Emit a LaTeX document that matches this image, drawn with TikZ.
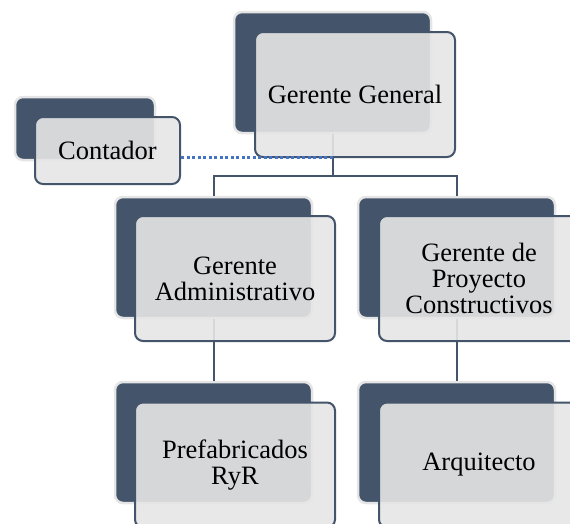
\documentclass[tikz,border=0pt]{standalone}
\usepackage{fontspec}
\setmainfont{Liberation Serif}
\usetikzlibrary{positioning}
\definecolor{slate}{HTML}{44546A}
\definecolor{paper}{HTML}{E6E6E6}
\definecolor{dotblue}{HTML}{4472C4}
\tikzset{
  back/.style={draw=black!10,line width=2.5pt,fill=slate,rounded corners=8pt,
    minimum width=197pt,minimum height=121pt,inner sep=0pt},
  front/.style={draw=slate,line width=2pt,fill=paper,fill opacity=0.9,text opacity=1,
    rounded corners=8pt,minimum width=200pt,minimum height=125pt,inner sep=0pt,
    align=center,font=\rmfamily\fontsize{26.5}{26}\selectfont},
  link/.style={draw=slate,line width=2pt},
  dotline/.style={draw=dotblue,line width=3pt,dash pattern=on 3pt off 2.5pt}
}
\begin{document}
\begin{tikzpicture}[x=1pt,y=-1pt]
\useasboundingbox (0,0) rectangle (570,523);
\clip (0,0) rectangle (570,523);
% back boxes
\node[back] (ggb) at (332.5,72.5) {};
\node[back,minimum width=140pt,minimum height=63pt] (ctb) at (85,128.5) {};
\node[back] (gab) at (213.5,257.5) {};
\node[back] (gpb) at (456.5,257.5) {};
\node[back] (pfb) at (213.5,442.5) {};
\node[back] (arb) at (456.5,442.5) {};
% connectors
\draw[link] (ggb.south) -- ++(0,42) coordinate (bus) -| (gab.north);
\draw[link] (bus) -| (gpb.north);
\draw[link] (gab.south) -- (pfb.north);
\draw[link] (gpb.south) -- (arb.north);
% front boxes
\node[front] (ggf) at ([shift={(22.5,22)}]ggb.center) {Gerente General};
\node[front,minimum width=145pt,minimum height=67pt] (ctf) at ([shift={(22.5,22)}]ctb.center) {Contador};
\node[front] (gaf) at ([shift={(21.5,21)}]gab.center) {Gerente\\Administrativo};
\node[front] (gpf) at ([shift={(22.5,21)}]gpb.center) {Gerente de\\Proyecto\\Constructivos};
\node[front] (pff) at ([shift={(21.5,22.5)}]pfb.center) {Prefabricados\\RyR};
\node[front] (arf) at ([shift={(22.5,22.5)}]arb.center) {Arquitecto};
% staff line
\coordinate (cj) at ([yshift=-23pt]ggb.south);
\draw[dotline] (cj) -- (cj -| ctf.east);
\end{tikzpicture}
\end{document}
